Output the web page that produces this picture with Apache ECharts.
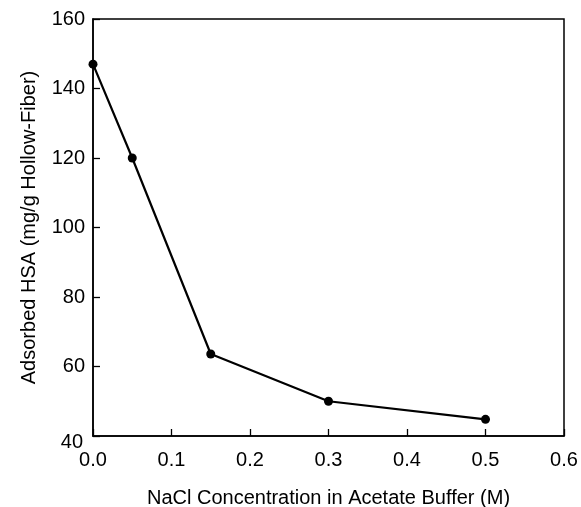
<!DOCTYPE html>
<html>
<head>
<meta charset="utf-8">
<script src="https://cdn.jsdelivr.net/npm/echarts@6/dist/echarts.min.js"></script>
<style>
html,body{margin:0;padding:0;background:#fff;}
#chart{width:581px;height:507px;}
</style>
</head>
<body>
<div id="chart"></div>
<script>
const nacl = [0.0, 0.05, 0.15, 0.3, 0.5];
const adsorbed = [147, 120, 63.6, 50, 44.8];
const xTicks = [0.0, 0.1, 0.2, 0.3, 0.4, 0.5, 0.6];
const yTicks = [40, 60, 80, 100, 120, 140, 160];
const xTitle = 'NaCl Concentration in Acetate Buffer (M)';
const yTitle = 'Adsorbed HSA (mg/g Hollow-Fiber)';

const font = 'Liberation Sans, Arial, Helvetica, sans-serif';
const chart = echarts.init(document.getElementById('chart'), null, {renderer: 'canvas'});
chart.setOption({
  animation: false,
  backgroundColor: '#fff',
  grid: {
    left: 93, right: 17, top: 19, bottom: 71,
    containLabel: false, outerBoundsMode: 'none',
    show: true, borderColor: '#000', borderWidth: 1.5, backgroundColor: 'transparent'
  },
  xAxis: {
    type: 'value',
    min: xTicks[0], max: xTicks[xTicks.length - 1], interval: 0.1,
    name: xTitle, nameLocation: 'middle', nameGap: 52,
    nameTextStyle: {fontFamily: font, fontSize: 20, color: '#000'},
    axisLine: {show: true, lineStyle: {color: '#000', width: 1.5}},
    axisTick: {show: true, inside: true, length: 7, lineStyle: {color: '#000', width: 1.3}},
    axisLabel: {fontFamily: font, fontSize: 20, color: '#000', margin: 14,
      formatter: v => v.toFixed(1)},
    splitLine: {show: false}
  },
  yAxis: {
    type: 'value',
    min: yTicks[0], max: yTicks[yTicks.length - 1], interval: 20,
    name: yTitle, nameLocation: 'middle', nameGap: 54, nameRotate: 90,
    nameTextStyle: {fontFamily: font, fontSize: 20, color: '#000'},
    axisLine: {show: true, lineStyle: {color: '#000', width: 1.5}},
    axisTick: {show: true, inside: true, length: 7, lineStyle: {color: '#000', width: 1.3}},
    axisLabel: {fontFamily: font, fontSize: 20, color: '#000', margin: 8,
      formatter: v => v === yTicks[0] ? '{low|' + v + '}' : String(v),
      rich: {low: {fontFamily: font, fontSize: 20, color: '#000', padding: [12, 2, 0, 0]}}},
    splitLine: {show: false}
  },
  series: [{
    type: 'line',
    data: nacl.map((x, i) => [x, adsorbed[i]]),
    symbol: 'circle', symbolSize: 9,
    itemStyle: {color: '#000'},
    lineStyle: {color: '#000', width: 2.2},
    clip: false
  }]
});
</script>
</body>
</html>
